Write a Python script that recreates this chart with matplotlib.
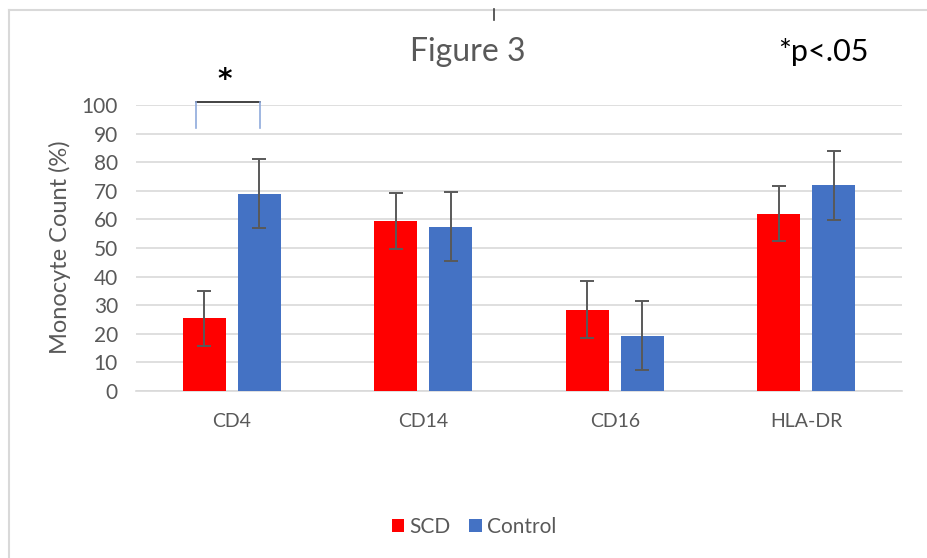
import matplotlib
matplotlib.use("Agg")
import matplotlib.pyplot as plt
import numpy as np
from matplotlib.lines import Line2D
from matplotlib.patches import Patch

plt.rcParams['font.family'] = ['Lato', 'DejaVu Sans']

categories = ["CD4", "CD14", "CD16", "HLA-DR"]
scd_values = [25.5, 59.3, 28.4, 62.0]
scd_errors = [9.6, 9.8, 9.9, 9.6]
control_values = [69.0, 57.5, 19.4, 71.9]
control_errors = [12.1, 12.0, 12.2, 12.0]
series_names = ["SCD", "Control"]
yticks = [0, 10, 20, 30, 40, 50, 60, 70, 80, 90, 100]

W, H = 928, 558
fig = plt.figure(figsize=(W / 100, H / 100), dpi=100)

def fx(px):
    return px / W

def fy(py):
    return 1 - py / H

ax = fig.add_axes([fx(136), fy(391), fx(902) - fx(136), fy(105) - fy(391)])

x = np.arange(len(categories))
bw = 0.225
off = 0.1436
text_gray = "#595959"

ax.bar(x - off, scd_values, bw, color="#FF0000", zorder=3)
ax.bar(x + off, control_values, bw, color="#4472C4", zorder=3)
ax.errorbar(x - off, scd_values, yerr=scd_errors, fmt="none", ecolor="#595959",
            elinewidth=1.4, capsize=4.7, capthick=1.4, zorder=4)
ax.errorbar(x + off, control_values, yerr=control_errors, fmt="none", ecolor="#595959",
            elinewidth=1.4, capsize=4.7, capthick=1.4, zorder=4)

ax.set_xlim(-0.5, len(categories) - 0.5)
ax.set_ylim(0, 100)
ax.set_yticks(yticks)
ax.set_yticklabels([str(t) for t in yticks], fontsize=15, color=text_gray)
ax.set_xticks(x)
ax.set_xticklabels(categories, fontsize=14, color=text_gray)
ax.tick_params(axis="both", length=0)
ax.tick_params(axis="y", pad=13)
ax.tick_params(axis="x", pad=16)
ax.yaxis.grid(True, color="#D9D9D9", linewidth=1.2, zorder=0)
ax.set_axisbelow(True)
for s in ["top", "right", "left"]:
    ax.spines[s].set_visible(False)
ax.spines["bottom"].set_color("#D9D9D9")
ax.spines["bottom"].set_linewidth(1.2)

ax.set_ylabel("Monocyte Count (%)", fontsize=17, color=text_gray)
ax.yaxis.set_label_coords((71 - 136) / 766, (391 - 247.5) / 286)

# significance bracket
bx0, bx1, by_top, by_bot = -0.188, 0.1475, 101.0, 92.0
ax.plot([bx0, bx1], [by_top, by_top], color="#222222", lw=1.2, clip_on=False, zorder=5)
ax.plot([bx0, bx0], [by_top, by_bot], color="#8FAADC", lw=1.2, clip_on=False, zorder=5)
ax.plot([bx1, bx1], [by_top, by_bot], color="#8FAADC", lw=1.2, clip_on=False, zorder=5)
fig.text(fx(225), fy(80), "*", fontsize=20, fontweight="bold", color="black",
         ha="center", va="center", family="DejaVu Sans")

fig.text(fx(468), fy(52), "Figure 3", fontsize=23, color=text_gray, ha="center", va="center")
fig.text(fx(823), fy(52), "*p<.05", fontsize=22, color="black", ha="center", va="center")

# frame lines
fig.add_artist(Line2D([fx(9), fx(9)], [fy(10), 0], color="#D9D9D9", lw=1.5))
fig.add_artist(Line2D([fx(9), 1], [fy(10), fy(10)], color="#D9D9D9", lw=1.5))
fig.add_artist(Line2D([fx(494), fx(494)], [fy(9), fy(20)], color="#404040", lw=1.2))

handles = [Patch(facecolor="#FF0000"), Patch(facecolor="#4472C4")]
fig.legend(handles, series_names, loc="center", bbox_to_anchor=(fx(474), fy(527)),
           ncol=2, frameon=False, fontsize=15, handlelength=0.6, handleheight=0.6,
           handletextpad=0.25, columnspacing=0.9, labelcolor=text_gray)

fig.savefig("out.png", dpi=100)
